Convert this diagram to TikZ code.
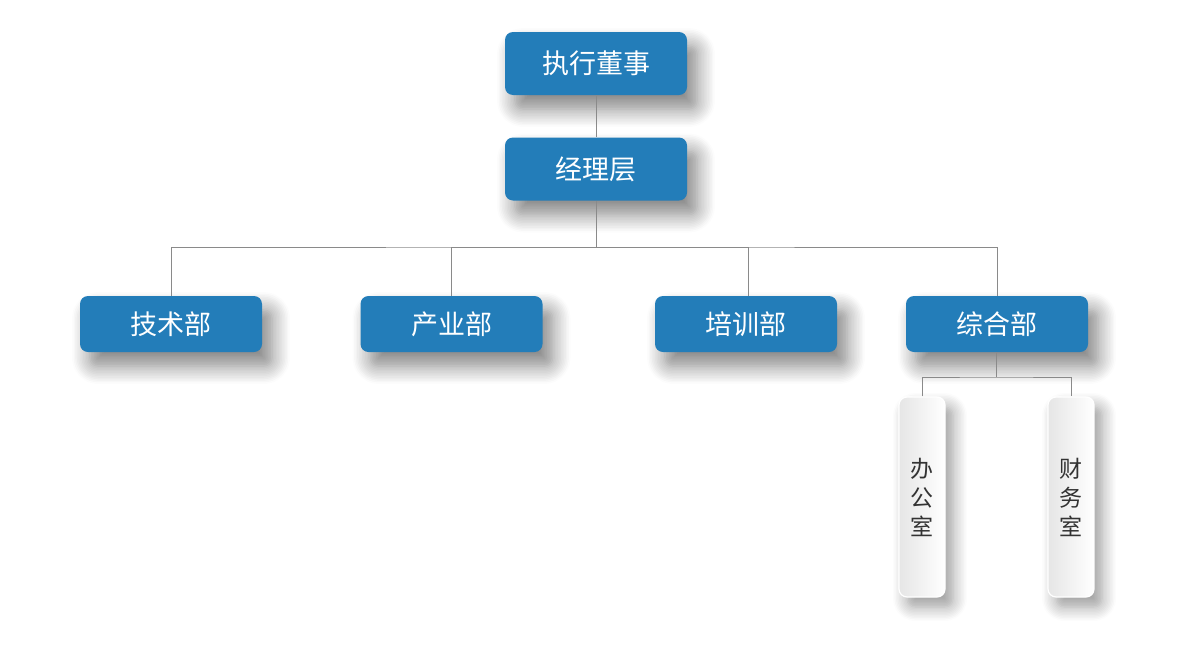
\documentclass[tikz,border=0pt]{standalone}
\usepackage{fontspec}
\setmainfont{Noto Sans CJK SC}
\usetikzlibrary{shadows.blur}
\definecolor{boxblue}{HTML}{237DB9}
\definecolor{linegray}{HTML}{8A8A8A}
\definecolor{txtgray}{HTML}{333333}
\begin{document}
\begin{tikzpicture}[x=1pt,y=-1pt,
  bluebox/.style={fill=boxblue, rounded corners=8pt, minimum width=182pt, text=white,
    font=\fontsize{27}{30}\selectfont, inner sep=0pt,
    blur shadow={shadow xshift=10pt, shadow yshift=-14pt, shadow blur radius=18pt, shadow blur steps=12, shadow opacity=50}},
  greybox/.style={draw=white, line width=1.2pt, left color=black!10, right color=white, rounded corners=8pt,
    minimum width=46pt, minimum height=200pt, inner sep=0pt, text=txtgray,
    font=\fontsize{23}{29}\selectfont, align=center,
    blur shadow={shadow xshift=8pt, shadow yshift=-10pt, shadow blur radius=14pt, shadow blur steps=10, shadow opacity=40}},
  conn/.style={draw=linegray, line width=0.8pt}]
\useasboundingbox (0,0) rectangle (1191,659);
\node[bluebox, minimum height=63pt] (ceo) at (596,63.5) {执行董事};
\node[bluebox, minimum height=63pt] (mgr) at (596,169) {经理层};
\node[bluebox, minimum height=56pt] (tech) at (171,324) {技术部};
\node[bluebox, minimum height=56pt] (ind) at (451.5,324) {产业部};
\node[bluebox, minimum height=56pt] (train) at (746,324) {培训部};
\node[bluebox, minimum height=56pt] (gen) at (997,324) {综合部};
\node[greybox] (office) at (922,497) {办\\公\\室};
\node[greybox] (fin) at (1071,497) {财\\务\\室};
\coordinate (bus) at (596,247);
\coordinate (bus2) at (996,377);
\draw[conn] (ceo.south) -- (mgr.north);
\draw[conn] (mgr.south) -- (bus);
\draw[conn] (tech.north) |- (bus) -| (gen.north);
\draw[conn] (ind.north) |- (bus);
\draw[conn] (748,296) |- (bus);
\draw[conn] (996,352) -- (bus2);
\draw[conn] (office.north) |- (bus2) -| (fin.north);
\end{tikzpicture}
\end{document}
